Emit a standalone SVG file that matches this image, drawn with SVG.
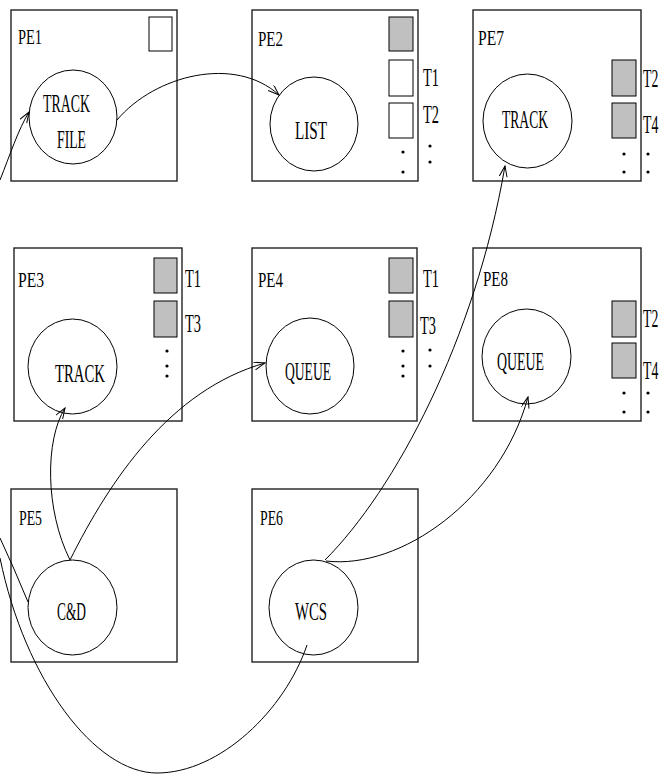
<svg xmlns="http://www.w3.org/2000/svg" width="661" height="775" viewBox="0 0 661 775">
<style>
.box{fill:#fff;stroke:#222;stroke-width:1.4}
.cir{fill:#fff;stroke:#000;stroke-width:1}
.sb{fill:#fff;stroke:#000;stroke-width:1}
.sg{fill:#c0c0c0;stroke:#000;stroke-width:1}
.t{font-family:"Liberation Serif","Times New Roman",serif;font-size:25px;fill:#000}
.pe{font-family:"Liberation Serif","Times New Roman",serif;font-size:22px;fill:#000}
.dot{fill:#000}
.c{fill:none;stroke:#000;stroke-width:1}
</style>
<defs>
<marker id="ah" markerUnits="userSpaceOnUse" markerWidth="12" markerHeight="10" refX="11" refY="4" orient="auto">
<path d="M0,0 L11,4 L0,8" fill="none" stroke="#000" stroke-width="1"/>
</marker>
</defs>

<g id="PE1">
<rect class="box" x="11" y="10" width="166" height="171"/>
<text class="pe" x="18" y="44" textLength="24" lengthAdjust="spacingAndGlyphs">PE1</text>
<rect class="sb" x="149" y="17" width="23" height="34"/>
<ellipse class="cir" cx="73" cy="117" rx="44" ry="47"/>
<text class="t" x="43" y="112" textLength="47" lengthAdjust="spacingAndGlyphs">TRACK</text>
<text class="t" x="57" y="148" textLength="29" lengthAdjust="spacingAndGlyphs">FILE</text>
</g>

<g id="PE2">
<rect class="box" x="252" y="10" width="166" height="171"/>
<text class="pe" x="258" y="46" textLength="25" lengthAdjust="spacingAndGlyphs">PE2</text>
<rect class="sg" x="389" y="17" width="24" height="34"/>
<rect class="sb" x="389" y="60" width="24" height="36"/>
<rect class="sb" x="389" y="103" width="24" height="35"/>
<text class="t" x="423" y="86" textLength="16" lengthAdjust="spacingAndGlyphs">T1</text>
<text class="t" x="423" y="123" textLength="16" lengthAdjust="spacingAndGlyphs">T2</text>
<circle class="dot" cx="403" cy="152" r="1.6"/><circle class="dot" cx="403" cy="172" r="1.6"/>
<circle class="dot" cx="430" cy="146" r="1.6"/><circle class="dot" cx="430" cy="162" r="1.6"/>
<ellipse class="cir" cx="314" cy="124" rx="44" ry="47"/>
<text class="t" x="295" y="139" textLength="32" lengthAdjust="spacingAndGlyphs">LIST</text>
</g>

<g id="PE7">
<rect class="box" x="473" y="10" width="168" height="171"/>
<text class="pe" x="478" y="45" textLength="26" lengthAdjust="spacingAndGlyphs">PE7</text>
<rect class="sg" x="612" y="60" width="24" height="36"/>
<rect class="sg" x="612" y="103" width="24" height="35"/>
<text class="t" transform="translate(643,87) scale(0.55,1)">T2</text>
<text class="t" transform="translate(643,133) scale(0.55,1)">T4</text>
<circle class="dot" cx="624" cy="154" r="1.6"/><circle class="dot" cx="624" cy="172" r="1.6"/>
<circle class="dot" cx="648" cy="154" r="1.6"/><circle class="dot" cx="648" cy="172" r="1.6"/>
<ellipse class="cir" cx="527.5" cy="121" rx="44.5" ry="47"/>
<text class="t" x="502" y="128" textLength="46" lengthAdjust="spacingAndGlyphs">TRACK</text>
</g>

<g id="PE3">
<rect class="box" x="14" y="248" width="168" height="173"/>
<text class="pe" x="18" y="287" textLength="26" lengthAdjust="spacingAndGlyphs">PE3</text>
<rect class="sg" x="154" y="258" width="23" height="35"/>
<rect class="sg" x="154" y="301" width="23" height="36"/>
<text class="t" x="185" y="287" textLength="16" lengthAdjust="spacingAndGlyphs">T1</text>
<text class="t" x="185" y="332" textLength="16" lengthAdjust="spacingAndGlyphs">T3</text>
<circle class="dot" cx="167" cy="351" r="1.6"/><circle class="dot" cx="167" cy="366" r="1.6"/><circle class="dot" cx="167" cy="376" r="1.6"/>
<ellipse class="cir" cx="72.5" cy="366.5" rx="44.5" ry="47.5"/>
<text class="t" x="55" y="382" textLength="50" lengthAdjust="spacingAndGlyphs">TRACK</text>
</g>

<g id="PE4">
<rect class="box" x="252" y="248" width="165" height="173"/>
<text class="pe" x="258" y="287" textLength="25" lengthAdjust="spacingAndGlyphs">PE4</text>
<rect class="sg" x="389" y="258" width="24" height="35"/>
<rect class="sg" x="389" y="301" width="24" height="36"/>
<text class="t" x="423" y="287" textLength="16" lengthAdjust="spacingAndGlyphs">T1</text>
<text class="t" x="420" y="334" textLength="16" lengthAdjust="spacingAndGlyphs">T3</text>
<circle class="dot" cx="403" cy="351" r="1.6"/><circle class="dot" cx="403" cy="366" r="1.6"/><circle class="dot" cx="403" cy="376" r="1.6"/>
<circle class="dot" cx="430" cy="350" r="1.6"/><circle class="dot" cx="430" cy="366" r="1.6"/>
<ellipse class="cir" cx="310" cy="366" rx="44" ry="48"/>
<text class="t" x="285" y="380" textLength="46" lengthAdjust="spacingAndGlyphs">QUEUE</text>
</g>

<g id="PE8">
<rect class="box" x="473" y="248" width="168" height="173"/>
<text class="pe" x="483" y="286" textLength="25" lengthAdjust="spacingAndGlyphs">PE8</text>
<rect class="sg" x="612" y="301" width="24" height="36"/>
<rect class="sg" x="612" y="343" width="24" height="35"/>
<text class="t" transform="translate(643,327) scale(0.55,1)">T2</text>
<text class="t" transform="translate(643,379) scale(0.55,1)">T4</text>
<circle class="dot" cx="624" cy="393" r="1.6"/><circle class="dot" cx="624" cy="412" r="1.6"/>
<circle class="dot" cx="648" cy="393" r="1.6"/><circle class="dot" cx="648" cy="412" r="1.6"/>
<ellipse class="cir" cx="526.5" cy="356.5" rx="44.5" ry="47.5"/>
<text class="t" x="497" y="370" textLength="47" lengthAdjust="spacingAndGlyphs">QUEUE</text>
</g>

<g id="PE5">
<rect class="box" x="11" y="489" width="166" height="173"/>
<text class="pe" x="19" y="525" textLength="23" lengthAdjust="spacingAndGlyphs">PE5</text>
<ellipse class="cir" cx="72.5" cy="607.5" rx="44.5" ry="47.5"/>
<text class="t" x="57" y="620" textLength="29" lengthAdjust="spacingAndGlyphs">C&amp;D</text>
</g>

<g id="PE6">
<rect class="box" x="252" y="489" width="166" height="173"/>
<text class="pe" x="260" y="525" textLength="23" lengthAdjust="spacingAndGlyphs">PE6</text>
<ellipse class="cir" cx="313.5" cy="607.5" rx="44.5" ry="47.5"/>
<text class="t" x="295" y="620" textLength="32" lengthAdjust="spacingAndGlyphs">WCS</text>
</g>

<g id="connectors">
<path class="c" d="M0,180 C10,155 18,130 29,112" marker-end="url(#ah)"/>
<path class="c" d="M117,120 C155,75 235,55 279,95" marker-end="url(#ah)"/>
<path class="c" d="M325,560 C395,490 475,340 505,166" marker-end="url(#ah)"/>
<path class="c" d="M326,561 C400,570 500,500 528,397" marker-end="url(#ah)"/>
<path class="c" d="M70,560 C45,510 45,440 65,408" marker-end="url(#ah)"/>
<path class="c" d="M70,560 C110,480 170,390 265,363" marker-end="url(#ah)"/>
<path class="c" d="M0,538 Q14,568 28,602"/>
<path class="c" d="M0,558 C25,680 95,773 157,773 C220,773 285,710 307,645"/>
</g>
</svg>
